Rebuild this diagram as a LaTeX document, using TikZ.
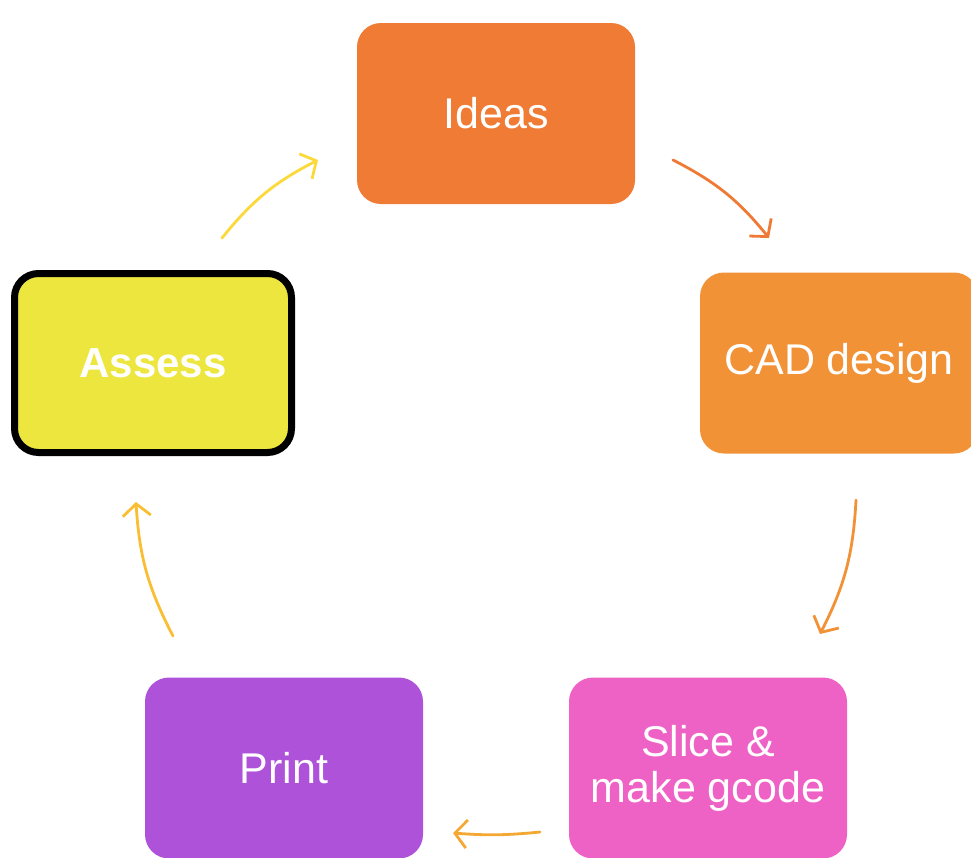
\documentclass[tikz,border=0pt]{standalone}
\usepackage{fontspec}
\setmainfont{Liberation Sans}
\usetikzlibrary{arrows.meta}
\definecolor{cIdeas}{HTML}{EF7B35}
\definecolor{cCad}{HTML}{F29237}
\definecolor{cSlice}{HTML}{EE62C6}
\definecolor{cPrint}{HTML}{AE52D9}
\definecolor{cAssess}{HTML}{EDE63F}
\definecolor{aOne}{HTML}{EE7A35}
\definecolor{aTwo}{HTML}{F29237}
\definecolor{aThree}{HTML}{F5A733}
\definecolor{aFour}{HTML}{F9BE33}
\definecolor{aFive}{HTML}{FCD93A}
\tikzset{
  stepbox/.style={rectangle, rounded corners=24pt, minimum width=278pt,
    minimum height=181pt, text=white, align=center,
    font=\fontsize{43}{46}\selectfont},
  cyclearrow/.style={line width=2.8pt, line cap=round,
    -{Straight Barb[length=12pt,width=28pt,line width=2.8pt]}}
}
\begin{document}
\begin{tikzpicture}[x=1pt,y=-1pt]
  \useasboundingbox (0,0) rectangle (971,857);
  \node[stepbox, fill=cIdeas] (ideas) at (496,113.5) {Ideas};
  \node[stepbox, fill=cCad] (cad) at (839,363) {CAD design};
  \node[stepbox, fill=cSlice] (slice) at (708,768) {Slice \&\\make gcode};
  \node[stepbox, fill=cPrint] (print) at (284,768) {Print};
  \node[stepbox, fill=cAssess, draw=black, line width=7pt,
        minimum width=277pt, minimum height=179pt,
        font=\bfseries\fontsize{42}{46}\selectfont] (assess) at (153,363) {Assess};

  \coordinate (a1s) at (673,160);  \coordinate (a1e) at (769,238);
  \coordinate (a2s) at (856,500);  \coordinate (a2e) at (820,634);
  \coordinate (a3s) at (540,832);  \coordinate (a3e) at (453,833);
  \coordinate (a4s) at (173,636);  \coordinate (a4e) at (136,502);
  \coordinate (a5s) at (222,238);  \coordinate (a5e) at (318,160);

  \draw[cyclearrow, draw=aOne]   (a1s) to[bend left=12] (a1e);
  \draw[cyclearrow, draw=aTwo]   (a2s) to[bend left=12] (a2e);
  \draw[cyclearrow, draw=aThree] (a3s) to[bend left=5] (a3e);
  \draw[cyclearrow, draw=aFour]  (a4s) to[bend left=12] (a4e);
  \draw[cyclearrow, draw=aFive]  (a5s) to[bend left=12] (a5e);
\end{tikzpicture}
\end{document}
